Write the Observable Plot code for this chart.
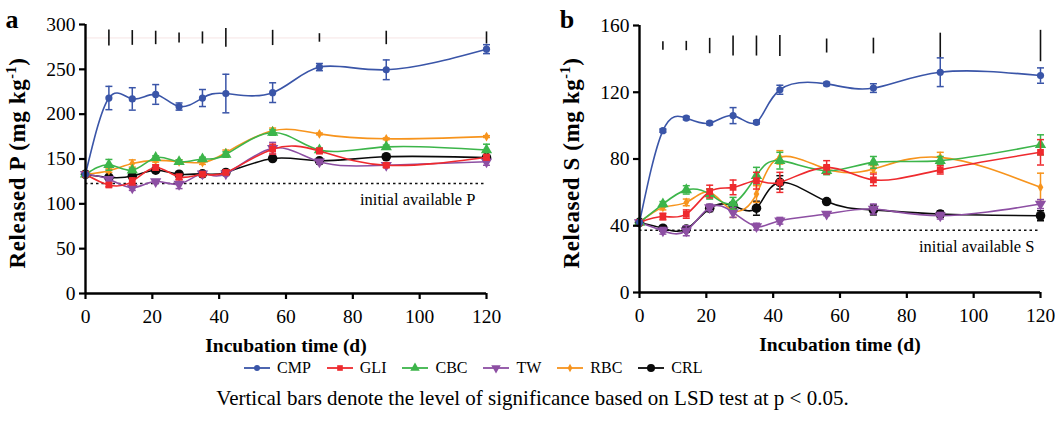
<!DOCTYPE html>
<html><head><meta charset="utf-8">
<script src="https://cdn.jsdelivr.net/npm/d3@7"></script>
<script src="https://cdn.jsdelivr.net/npm/@observablehq/plot@0.6"></script>
<style>
body{margin:0;background:#fff;font-family:"Liberation Serif",serif;color:#000;}
#wrap{width:1055px;}
#panels{display:flex;}
#legend{display:flex;justify-content:flex-start;align-items:center;gap:16px;height:30px;font-size:16px;padding-left:244px;}
#legend .item{display:flex;align-items:center;gap:7px;}
#caption{text-align:center;font-size:21px;margin-top:3px;padding-left:10px;}
</style></head><body>
<div id="wrap"><div id="panels"></div><div id="legend"></div><div id="caption">Vertical bars denote the level of significance based on LSD test at p &lt; 0.05.</div></div>
<script>
const days = [0, 7, 14, 21, 28, 35, 42, 56, 70, 90, 120];
const treatments = ["CMP", "GLI", "CBC", "TW", "RBC", "CRL"];
const colors = ["#3a55a8", "#ee2a2e", "#3cb54a", "#8d4fa3", "#f7941d", "#0a0a0a"];

// Panel a: released P (mg kg-1), means and error (half-length)
const pCMP = [133, 218, 217, 222, 208.5, 218, 223, 224, 252.5, 249.5, 272.5];
const pCMPerr = [0, 13, 12.5, 11, 4, 9.5, 21.5, 11, 4, 11, 5];
const pGLI = [133, 121, 125, 140.5, 130, 133, 135, 161, 159, 143, 152];
const pGLIerr = [0, 2, 4, 3, 3, 2, 2, 5.5, 3, 2, 3];
const pCBC = [133, 143.5, 137.5, 151.5, 147, 150, 155, 179.5, 160, 163.5, 160];
const pCBCerr = [0, 6, 2, 2, 2, 2, 3, 3, 2, 2, 6.5];
const pTW = [133, 127.5, 118, 125, 122, 133.5, 133.5, 162, 147, 143, 147];
const pTWerr = [0, 2, 3, 2, 5, 2, 2, 6.5, 2, 2, 4];
const pRBC = [133, 137, 145, 148.5, 147, 146, 157, 181.5, 178, 172.5, 175];
const pRBCerr = [0, 2, 4, 2, 2, 2, 3, 3, 1, 1, 1];
const pCRL = [133, 129.5, 131, 137.5, 133, 133.5, 135, 150.5, 148, 152.5, 151.5];
const pCRLerr = [0, 2, 3, 2, 2, 2, 2, 2, 2, 2, 2];
const pLSD = [18, 16.5, 15, 11, 13.5, 21, 17, 9.5, 15, 13.5];
const pLSDlevel = 285;
const pInitial = 122.6;

// Panel b: released S (mg kg-1)
const sCMP = [42, 97, 104.5, 101.5, 106, 102, 121.5, 125, 122.5, 132, 130];
const sCMPerr = [0, 1, 1, 1, 4.8, 1, 2.7, 1, 2.6, 8.6, 4.6];
const sGLI = [42, 45.5, 47, 60.5, 63, 67, 66, 75, 67.5, 73.5, 84];
const sGLIerr = [0, 2, 2.5, 3.8, 4.4, 5, 6, 4, 3.5, 2.5, 7.6];
const sCBC = [42, 53, 61.5, 59, 53.5, 70, 79, 73, 78, 79, 88.5];
const sCBCerr = [0, 1.5, 2.5, 3, 3.5, 5, 5, 2.4, 3.5, 2.5, 6];
const sTW = [42, 37, 37, 51, 48, 39.5, 43, 47, 50, 46, 53];
const sTWerr = [0, 2, 3, 2, 3, 2, 2, 1, 3, 2, 2.7];
const sRBC = [42, 51, 54, 60, 49, 59, 81, 74, 74, 81, 63];
const sRBCerr = [0, 1.5, 2, 2, 4, 5, 4, 2, 2, 3, 8.5];
const sCRL = [42, 38.5, 38, 50.5, 52, 50.5, 66, 54.5, 49.5, 47, 46];
const sCRLerr = [0, 1.5, 1.5, 2, 2, 4.2, 4, 1, 3, 2, 3];
const sLSD = [5, 5.6, 9.2, 12, 12, 12.6, 8.4, 9.4, 15.4, 18.8];
const sLSDlevel = 147.7;
const sInitial = 37.3;

const xTicks = [0, 20, 40, 60, 80, 100, 120];
const pTicks = [0, 50, 100, 150, 200, 250, 300];
const sTicks = [0, 40, 80, 120, 160];

const FONT = "'Liberation Serif', 'Times New Roman', serif";
const sqrt3 = Math.sqrt(3);
const triDown = {draw(ctx, size) {
  const y = -Math.sqrt(size / (sqrt3 * 3));
  ctx.moveTo(0, -y * 2); ctx.lineTo(-sqrt3 * y, y); ctx.lineTo(sqrt3 * y, y); ctx.closePath();
}};
const capSym = {draw(ctx, size) {
  const w = Math.sqrt(size / Math.PI);
  ctx.moveTo(-w, 0); ctx.lineTo(w, 0);
}};
const symbols = ["circle", "square", "triangle", triDown, "diamond", "circle"];
const radii = [3.6, 3.8, 4.2, 4.2, 3, 4.8];

function build(values, errs) {
  const rows = [];
  treatments.forEach((t, i) => days.forEach((d, j) => rows.push({treatment: t, day: d, value: values[i][j], err: errs[i][j]})));
  return rows;
}

function panel(o) {
  const rows = build(o.values, o.errs);
  const lsdRows = days.slice(1).map((d, i) => ({day: d, lsd: o.lsd[i]}));
  const marks = [];
  if (o.faint) marks.push(Plot.ruleY([o.lsdLevel], {stroke: "#f6e4e4", strokeWidth: 1}));
  marks.push(Plot.ruleX(lsdRows, {x: "day", y1: d => o.lsdLevel - d.lsd / 2, y2: d => o.lsdLevel + d.lsd / 2, stroke: "#111", strokeWidth: 1.6}));
  marks.push(Plot.ruleY([o.initial], {stroke: "#111", strokeWidth: 1.4, strokeDasharray: "2.5,3"}));
  marks.push(Plot.text([o.initial], {y: d => d, frameAnchor: "right", text: () => o.initialLabel, textAnchor: "end", dx: o.labelDx, dy: 16, fontSize: 16.5, fontFamily: FONT}));
  for (let k = treatments.length - 1; k >= 0; k--) {
    const t = treatments[k], c = colors[k];
    const r = rows.filter(d => d.treatment === t);
    const e = r.filter(d => d.err > 0);
    marks.push(Plot.line(r, {x: "day", y: "value", stroke: c, strokeWidth: 1.6, curve: "natural"}));
    marks.push(Plot.ruleX(e, {x: "day", y1: d => d.value - d.err, y2: d => d.value + d.err, stroke: c, strokeWidth: 1.5}));
    marks.push(Plot.dot(e, {x: "day", y: d => d.value - d.err, symbol: capSym, r: 3.5, stroke: c, strokeWidth: 1.5}));
    marks.push(Plot.dot(e, {x: "day", y: d => d.value + d.err, symbol: capSym, r: 3.5, stroke: c, strokeWidth: 1.5}));
    marks.push(Plot.dot(r, {x: "day", y: "value", symbol: symbols[k], r: radii[k], fill: c, stroke: "none"}));
  }
  marks.push(Plot.axisX({ticks: xTicks, tickSize: 6, tickPadding: 10, strokeWidth: 2.2, label: null, fontSize: 19.5, fontFamily: FONT}));
  marks.push(Plot.axisY({ticks: o.yTicks, tickSize: 6, tickPadding: 4, strokeWidth: 2.2, label: null, fontSize: 19.5, fontFamily: FONT}));
  marks.push(Plot.ruleX([0], {stroke: "#000", strokeWidth: 2.4}));
  marks.push(Plot.ruleY([0], {stroke: "#000", strokeWidth: 2.4}));
  marks.push(Plot.text(["Incubation time (d)"], {frameAnchor: "bottom", dy: 58, fontWeight: "bold", fontSize: 19.5, fontFamily: FONT}));
  const svg = Plot.plot({
    width: o.width, height: 353,
    marginLeft: o.ml, marginRight: o.mr, marginTop: o.mt, marginBottom: 353 - o.bottom,
    x: {domain: [0, 120]},
    y: {domain: o.yDomain},
    style: {fontFamily: FONT, fontSize: "19px", color: "#000", background: "transparent", overflow: "visible"},
    marks
  });
  const s = d3.select(svg);
  s.append("text").attr("x", o.letterX).attr("y", 28).attr("font-size", 26).attr("font-weight", "bold").attr("font-family", FONT).text(o.letter);
  const lab = s.append("text").attr("transform", `translate(${o.labelX},${o.labelY}) rotate(-90)`)
    .attr("text-anchor", "middle").attr("font-size", 23).attr("font-weight", "bold").attr("letter-spacing", 0.6).attr("font-family", FONT);
  lab.append("tspan").text(o.yLabel + " (mg kg");
  lab.append("tspan").attr("dy", -9).attr("font-size", 14).text("-1");
  lab.append("tspan").attr("dy", 9).text(")");
  return svg;
}

const host = document.getElementById("panels");
host.appendChild(panel({
  values: [pCMP, pGLI, pCBC, pTW, pRBC, pCRL],
  errs: [pCMPerr, pGLIerr, pCBCerr, pTWerr, pRBCerr, pCRLerr],
  lsd: pLSD, lsdLevel: pLSDlevel, initial: pInitial, initialLabel: "initial available P",
  yDomain: [0, 300], yTicks: pTicks, width: 527, ml: 85, mr: 41, mt: 24, bottom: 293, faint: true,
  letter: "a", letterX: 12, labelX: 25, labelY: 163, yLabel: "Released P", labelDx: -11
}));
host.appendChild(panel({
  values: [sCMP, sGLI, sCBC, sTW, sRBC, sCRL],
  errs: [sCMPerr, sGLIerr, sCBCerr, sTWerr, sRBCerr, sCRLerr],
  lsd: sLSD, lsdLevel: sLSDlevel, initial: sInitial, initialLabel: "initial available S",
  yDomain: [0, 160], yTicks: sTicks, width: 528, ml: 112, mr: 15, mt: 25, bottom: 292, faint: false,
  letter: "b", letterX: 40, labelX: 52, labelY: 163, yLabel: "Released S", labelDx: -6
}));

const legend = document.getElementById("legend");
treatments.forEach((t, k) => {
  const item = document.createElement("div"); item.className = "item";
  const w = 26, h = 14;
  const sv = d3.create("svg").attr("width", w).attr("height", h);
  sv.append("line").attr("x1", 0).attr("x2", w).attr("y1", h / 2).attr("y2", h / 2).attr("stroke", colors[k]).attr("stroke-width", 1.8);
  const sym = typeof symbols[k] === "string" ? {circle: d3.symbolCircle, square: d3.symbolSquare, triangle: d3.symbolTriangle, diamond: d3.symbolDiamond}[symbols[k]] : symbols[k];
  sv.append("path").attr("transform", `translate(${w / 2},${h / 2})`).attr("d", d3.symbol(sym, Math.PI * radii[k] * radii[k] * 0.7)()).attr("fill", colors[k]);
  item.appendChild(sv.node());
  const span = document.createElement("span"); span.textContent = t; item.appendChild(span);
  legend.appendChild(item);
});
</script>
</body></html>
